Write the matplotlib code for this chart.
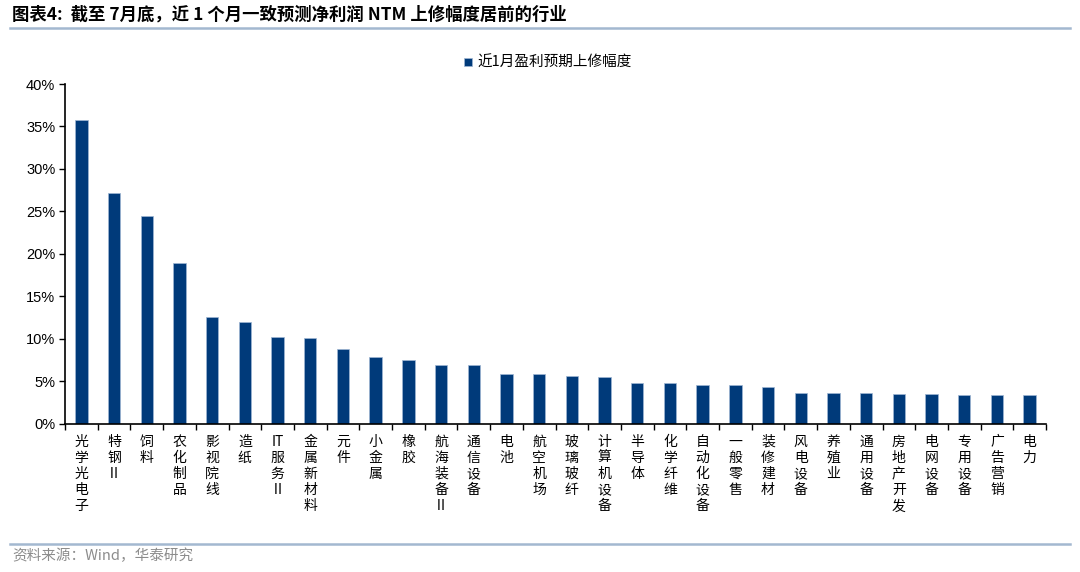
import matplotlib
matplotlib.use("Agg")
import matplotlib.pyplot as plt
from matplotlib.lines import Line2D
from matplotlib.ticker import FuncFormatter, FixedLocator

plt.rcParams['font.family'] = ['Noto Sans CJK SC', 'DejaVu Sans']

industries = ['光学光电子', '特钢Ⅱ', '饲料', '农化制品', '影视院线', '造纸', 'IT服务Ⅱ',
              '金属新材料', '元件', '小金属', '橡胶', '航海装备Ⅱ', '通信设备', '电池',
              '航空机场', '玻璃玻纤', '计算机设备', '半导体', '化学纤维', '自动化设备',
              '一般零售', '装修建材', '风电设备', '养殖业', '通用设备', '房地产开发',
              '电网设备', '专用设备', '广告营销', '电力']
revision = [35.7, 27.2, 24.5, 18.9, 12.6, 11.9, 10.2, 10.1, 8.8, 7.8,
            7.5, 6.95, 6.95, 5.8, 5.8, 5.65, 5.45, 4.75, 4.75, 4.5,
            4.5, 4.35, 3.65, 3.65, 3.65, 3.45, 3.45, 3.3, 3.3, 3.3]
series_name = '近1月盈利预期上修幅度'
title = '图表4:  截至 7月底，近 1 个月一致预测净利润 NTM 上修幅度居前的行业'
source = '资料来源：Wind，华泰研究'


def vertical(label):
    # stack characters vertically, keep latin letters together
    parts = []
    buf = ''
    for ch in label:
        if ch.isascii():
            buf += ch
        else:
            if buf:
                parts.append(buf)
                buf = ''
            parts.append(ch)
    if buf:
        parts.append(buf)
    return '\n'.join(parts)


W, H = 1080, 572
fig = plt.figure(figsize=(W / 100, H / 100), dpi=100)
ax = fig.add_axes([65 / W, 1 - 423.5 / H, (1046 - 65) / W, (423.5 - 84) / H])

bar_color = '#003A7A'
x = list(range(len(industries)))
ax.bar(x, revision, width=0.38, color=bar_color, edgecolor='#9FB6D3', linewidth=0.5,
       label=series_name, zorder=2)

ax.set_xlim(-0.5, len(industries) - 0.5)
ax.set_ylim(0, 40)
ax.yaxis.set_major_locator(FixedLocator([0, 5, 10, 15, 20, 25, 30, 35, 40]))
ax.yaxis.set_major_formatter(FuncFormatter(lambda v, p: f'{v:.0f}%'))
for lab in ax.get_yticklabels():
    lab.set_family(['Liberation Sans', 'DejaVu Sans'])
ax.tick_params(axis='y', direction='out', length=4, width=1, labelsize=10.5, pad=3)

# ticks at category boundaries, labels at centers
ax.set_xticks([i - 0.5 for i in range(len(industries) + 1)])
ax.set_xticklabels([])
ax.set_xticks(x, minor=True)
ax.set_xticklabels([vertical(s) for s in industries], minor=True,
                   fontsize=10, linespacing=1.2, va='top')
ax.tick_params(axis='x', which='major', direction='out', length=4, width=1)
ax.tick_params(axis='x', which='minor', length=0, pad=8)

for side in ['top', 'right']:
    ax.spines[side].set_visible(False)
ax.spines['left'].set_linewidth(1.2)
ax.spines['bottom'].set_linewidth(1.2)

leg = ax.legend(loc='upper center', bbox_to_anchor=(548 / W, 1 - 43 / H),
                bbox_transform=fig.transFigure, frameon=False, fontsize=10.5,
                handlelength=0.55, handleheight=0.55, handletextpad=0.4)

# title and footer
fig.text(12 / W, 1 - 15 / H, title, fontsize=12.5, fontweight='bold', va='center', ha='left')
fig.add_artist(Line2D([10 / W, 1070 / W], [1 - 28 / H, 1 - 28 / H], color='#A3B8D0', lw=1.8))
fig.add_artist(Line2D([10 / W, 1070 / W], [1 - 544 / H, 1 - 544 / H], color='#A3B8D0', lw=1.8))
fig.text(12 / W, 1 - 556 / H, source, fontsize=10.5, color='#8C8C8C', va='center', ha='left')

fig.savefig('out.png', dpi=100)
